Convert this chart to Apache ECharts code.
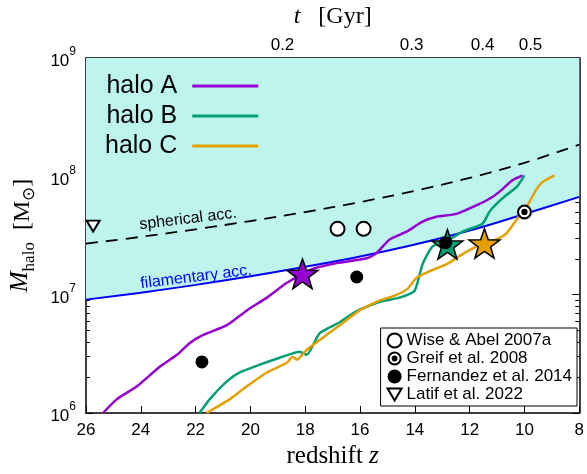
<!DOCTYPE html>
<html><head><meta charset="utf-8">
<script src="https://cdn.jsdelivr.net/npm/echarts@6/dist/echarts.min.js"></script>
<style>html,body{margin:0;padding:0;background:#fff}#c{width:587px;height:474px}</style>
</head><body><div id="c"></div>
<script>
// ---------- data ----------
const tTickZ = [18.83, 14.12, 11.53, 9.78];
const tTickLabels = ['0.2', '0.3', '0.4', '0.5'];

const filZ = [26, 24, 22, 20, 18, 16, 14, 12, 10, 8];
const filM = [9.08e6, 1.04e7, 1.21e7, 1.43e7, 1.72e7, 2.10e7, 2.65e7, 3.48e7, 4.8e7, 6.7e7];

const sphZ = [26, 24, 22, 20, 18, 16, 14, 12, 10, 8];
const sphM = [2.70e7, 3.08e7, 3.57e7, 4.19e7, 4.99e7, 6.06e7, 7.55e7, 9.70e7, 1.30e8, 1.85e8];

const haloAz = [25.38, 24.87, 24.14, 23.30, 22.68, 22.21, 21.74, 20.86, 20.13, 19.40, 18.67, 18.09, 17.73, 16.85, 15.76, 15.40, 14.92, 14.30, 13.72, 13.21, 12.48, 11.64, 11.17, 10.80, 10.44, 10.07];
const haloAm = [1.0e6, 1.31e6, 1.68e6, 2.47e6, 3.10e6, 3.91e6, 4.55e6, 5.52e6, 7.36e6, 9.44e6, 1.26e7, 1.50e7, 1.65e7, 1.85e7, 2.03e7, 2.24e7, 2.93e7, 3.41e7, 4.14e7, 4.55e7, 4.82e7, 5.85e7, 6.68e7, 7.80e7, 9.27e7, 1.02e8];

const haloBz = [21.86, 21.48, 20.86, 20.39, 19.66, 18.93, 18.20, 17.95, 17.47, 16.74, 16.2, 15.65, 15.1, 14.56, 14.01, 13.72, 13.35, 12.84, 12.26, 11.53, 11.28, 11.02, 10.66, 10.29, 10.0];
const haloBm = [1.0e6, 1.31e6, 1.85e6, 2.20e6, 2.56e6, 2.93e6, 3.29e6, 3.10e6, 4.73e6, 5.85e6, 7.08e6, 8.1e6, 8.9e6, 9.44e6, 1.08e7, 1.81e7, 2.56e7, 2.82e7, 3.41e7, 3.98e7, 5.01e7, 5.85e7, 6.95e7, 8.10e7, 1.02e8];

const haloCz = [21.6, 20.75, 20.13, 19.40, 18.67, 18.46, 18.31, 17.95, 17.47, 16.74, 16.01, 15.29, 14.74, 14.27, 13.94, 13.46, 12.84, 12.26, 11.75, 11.46, 11.02, 10.66, 10.29, 10.07, 9.82, 9.56, 9.35, 8.91];
const haloCm = [1.0e6, 1.31e6, 1.68e6, 2.20e6, 2.66e6, 2.99e6, 2.82e6, 3.41e6, 4.14e6, 5.52e6, 7.36e6, 8.91e6, 9.8e6, 1.12e7, 1.39e7, 1.58e7, 1.81e7, 2.20e7, 2.56e7, 2.71e7, 2.93e7, 3.29e7, 4.30e7, 5.01e7, 6.07e7, 7.80e7, 8.91e7, 1.02e8];

const starAz = [18.1], starAm = [1.5e7];
const starBz = [12.81], starBm = [2.66e7];
const starCz = [11.46], starCm = [2.71e7];

const wiseZ = [16.82, 15.87], wiseM = [3.6e7, 3.6e7];
const greifZ = [10.0], greifM = [5.0e7];
const fernZ = [21.77, 16.12, 12.88], fernM = [2.7e6, 1.41e7, 2.75e7];
const latifZ = [25.74], latifM = [3.8e7];

// ---------- helpers ----------
const zip = (a, b) => a.map((v, i) => [v, b[i]]);
const minorLog = [];
for (let e = 6; e < 9; e++) for (let k = 2; k <= 9; k++) minorLog.push(e + Math.log10(k));

const SANS = '"Liberation Sans", Arial, sans-serif';
const SERIF = '"Liberation Serif", "Times New Roman", serif';
const STAR = 'path://M50,0 L61.76,33.82 L97.55,34.55 L69.02,56.18 L79.39,90.45 L50,70 L20.61,90.45 L30.98,56.18 L2.45,34.55 L38.24,33.82 Z';
const BULLSEYE = 'path://M0,10 A10,10 0 1,1 20,10 A10,10 0 1,1 0,10 Z M2.8,10 A7.2,7.2 0 1,0 17.2,10 A7.2,7.2 0 1,0 2.8,10 Z M5.8,10 A4.2,4.2 0 1,1 14.2,10 A4.2,4.2 0 1,1 5.8,10 Z';
const TRI_DOWN = 'path://M0,0 L20,0 L10,17 Z';

const purple = '#9400d3', green = '#009e73', orange = '#e69f00', cyan = '#bdf5ee';

const axisLineStyle = { show: true, lineStyle: { color: '#000', width: 1.5 } };
const yBase = { type: 'log', logBase: 10, min: 1e6, max: 1e9, splitLine: { show: false } };
const yMinorBase = { type: 'value', min: 6, max: 9, splitLine: { show: false }, axisLine: { show: false }, axisLabel: { show: false } };

const chart = echarts.init(document.getElementById('c'), null, { renderer: 'canvas' });
chart.setOption({
  animation: false,
  backgroundColor: '#fff',
  grid: { left: 86, right: 7, top: 54, bottom: 60, containLabel: false },
  xAxis: [
    {
      type: 'value', min: 8, max: 26, interval: 2, inverse: true, position: 'bottom',
      axisLine: axisLineStyle, splitLine: { show: false },
      axisTick: { inside: true, length: 7, lineStyle: { color: '#000', width: 1 } },
      axisLabel: { fontSize: 17, fontFamily: SANS, color: '#000', margin: 9 },
      name: 'redshift {i|z}', nameLocation: 'middle', nameGap: 31,
      nameTextStyle: { fontSize: 25, fontFamily: SERIF, color: '#000', verticalAlign: 'top',
        rich: { i: { fontSize: 25, fontFamily: SERIF, fontStyle: 'italic', color: '#000' } } }
    },
    {
      type: 'value', min: 8, max: 26, inverse: true, position: 'top',
      axisLine: axisLineStyle, splitLine: { show: false },
      axisTick: { inside: true, length: 7, customValues: tTickZ, lineStyle: { color: '#000', width: 1 } },
      axisLabel: { customValues: tTickZ, fontSize: 17, fontFamily: SANS, color: '#000', margin: 4,
        formatter: v => { let best = 0; tTickZ.forEach((z, i) => { if (Math.abs(z - v) < Math.abs(tTickZ[best] - v)) best = i; }); return tTickLabels[best]; } },
      name: '{i|t}   [Gyr]', nameLocation: 'middle', nameGap: 29,
      nameTextStyle: { fontSize: 24, fontFamily: SERIF, color: '#000',
        rich: { i: { fontSize: 24, fontFamily: SERIF, fontStyle: 'italic', color: '#000' } } }
    }
  ],
  yAxis: [
    Object.assign({}, yBase, {
      position: 'left', axisLine: axisLineStyle,
      axisTick: { inside: true, length: 7, lineStyle: { color: '#000', width: 1 } },
      axisLabel: { margin: 10, formatter: v => '{b|10}{s|' + Math.round(Math.log10(v)) + '}',
        rich: { b: { fontSize: 17, fontFamily: SANS, color: '#000', verticalAlign: 'bottom', lineHeight: 24 },
                s: { fontSize: 12, fontFamily: SANS, color: '#000', verticalAlign: 'top', lineHeight: 24 } } },
      name: '{i|M}{sub|halo}  [M{sun|⊙}]', nameLocation: 'middle', nameGap: 48, nameRotate: 90,
      nameTextStyle: { fontSize: 24, fontFamily: SERIF, color: '#000',
        rich: { i: { fontSize: 25, fontFamily: SERIF, fontStyle: 'italic', color: '#000', verticalAlign: 'top', lineHeight: 30 },
                sub: { fontSize: 17, fontFamily: SERIF, color: '#000', verticalAlign: 'bottom', lineHeight: 30 },
                sun: { fontSize: 17, fontFamily: SERIF, color: '#000', verticalAlign: 'bottom', lineHeight: 30 } } }
    }),
    Object.assign({}, yMinorBase, {
      position: 'left',
      axisTick: { inside: true, length: 4, customValues: minorLog, lineStyle: { color: '#000', width: 1 } }
    }),
    Object.assign({}, yBase, {
      position: 'right', axisLine: axisLineStyle, axisLabel: { show: false },
      axisTick: { inside: true, length: 7, lineStyle: { color: '#000', width: 1 } }
    }),
    Object.assign({}, yMinorBase, {
      position: 'right',
      axisTick: { inside: true, length: 4, customValues: minorLog, lineStyle: { color: '#000', width: 1 } }
    })
  ],
  legend: [
    {
      data: ['halo A', 'halo B', 'halo C'], orient: 'vertical', left: 100, top: 68,
      align: 'right', icon: 'rect', itemWidth: 66, itemHeight: 3, itemGap: 4,
      textStyle: { fontSize: 25, fontFamily: SANS, color: '#000', lineHeight: 26, padding: [0, 10, 0, 0] }
    },
    {
      data: [
        { name: 'Wise & Abel 2007a', icon: 'circle', itemStyle: { color: '#fff', borderColor: '#000', borderWidth: 2 } },
        { name: 'Greif et al. 2008', icon: BULLSEYE, itemStyle: { color: '#000', borderWidth: 0 } },
        { name: 'Fernandez et al. 2014', icon: 'circle', itemStyle: { color: '#000', borderWidth: 0 } },
        { name: 'Latif et al. 2022', icon: TRI_DOWN, itemStyle: { color: '#fff', borderColor: '#000', borderWidth: 2 } }
      ],
      orient: 'vertical', right: 10, top: 328, itemWidth: 14, itemHeight: 14, itemGap: 1,
      backgroundColor: '#fff', borderColor: '#000', borderWidth: 1, borderRadius: 0, padding: [4, 5, 3, 6],
      textStyle: { fontSize: 17, fontFamily: SANS, color: '#000', lineHeight: 17 }
    }
  ],
  graphic: [
    { type: 'text', x: 188, y: 219, rotation: 7 * Math.PI / 180, z: 100,
      style: { text: 'spherical acc.', font: '16px "Liberation Sans"', fill: '#000', align: 'center', verticalAlign: 'middle' } },
    { type: 'text', x: 196, y: 277, rotation: 7 * Math.PI / 180, z: 100,
      style: { text: 'filamentary acc.', font: '16px "Liberation Sans"', fill: '#0000ff', align: 'center', verticalAlign: 'middle' } }
  ],
  series: [
    { name: 'filamentary', type: 'line', data: zip(filZ, filM), smooth: 0.4, symbol: 'none', z: 1,
      lineStyle: { color: '#0000ff', width: 2 }, areaStyle: { origin: 'end', color: cyan, opacity: 1 } },
    { name: 'spherical', type: 'line', data: zip(sphZ, sphM), smooth: 0.4, symbol: 'none', z: 2,
      lineStyle: { color: '#000', width: 1.8, type: [12, 8] } },
    { name: 'halo A', type: 'line', data: zip(haloAz, haloAm), symbol: 'none', smooth: 0.2, z: 3,
      itemStyle: { color: purple }, lineStyle: { color: purple, width: 2.5 } },
    { name: 'halo B', type: 'line', data: zip(haloBz, haloBm), symbol: 'none', smooth: 0.2, z: 3,
      itemStyle: { color: green }, lineStyle: { color: green, width: 2.5 } },
    { name: 'halo C', type: 'line', data: zip(haloCz, haloCm), symbol: 'none', smooth: 0.2, z: 3,
      itemStyle: { color: orange }, lineStyle: { color: orange, width: 2.5 } },
    { name: 'Wise & Abel 2007a', type: 'scatter', data: zip(wiseZ, wiseM), symbol: 'circle', symbolSize: 14, z: 5,
      itemStyle: { color: '#fff', borderColor: '#000', borderWidth: 2, opacity: 1 } },
    { name: 'greifBg', type: 'scatter', data: zip(greifZ, greifM), symbol: 'circle', symbolSize: 15, z: 5,
      itemStyle: { color: '#fff', opacity: 1 } },
    { name: 'Greif et al. 2008', type: 'scatter', data: zip(greifZ, greifM), symbol: BULLSEYE, symbolSize: 15, z: 6,
      itemStyle: { color: '#000', opacity: 1 } },
    { name: 'stars', type: 'scatter', data: zip(starAz, starAm), symbol: STAR, symbolSize: 31, symbolKeepAspect: true, z: 7,
      itemStyle: { color: purple, borderColor: '#000', borderWidth: 1.5, opacity: 1 } },
    { name: 'stars', type: 'scatter', data: zip(starBz, starBm), symbol: STAR, symbolSize: 31, symbolKeepAspect: true, z: 7,
      itemStyle: { color: green, borderColor: '#000', borderWidth: 1.5, opacity: 1 } },
    { name: 'stars', type: 'scatter', data: zip(starCz, starCm), symbol: STAR, symbolSize: 31, symbolKeepAspect: true, z: 7,
      itemStyle: { color: orange, borderColor: '#000', borderWidth: 1.5, opacity: 1 } },
    { name: 'Fernandez et al. 2014', type: 'scatter', data: zip(fernZ, fernM), symbol: 'circle', symbolSize: 13, z: 8,
      itemStyle: { color: '#000', opacity: 1 } },
    { name: 'Latif et al. 2022', type: 'scatter', data: zip(latifZ, latifM), symbol: TRI_DOWN, symbolSize: [13, 11], z: 8,
      itemStyle: { color: '#fff', borderColor: '#000', borderWidth: 2, opacity: 1 } }
  ]
});
</script>
</body></html>
